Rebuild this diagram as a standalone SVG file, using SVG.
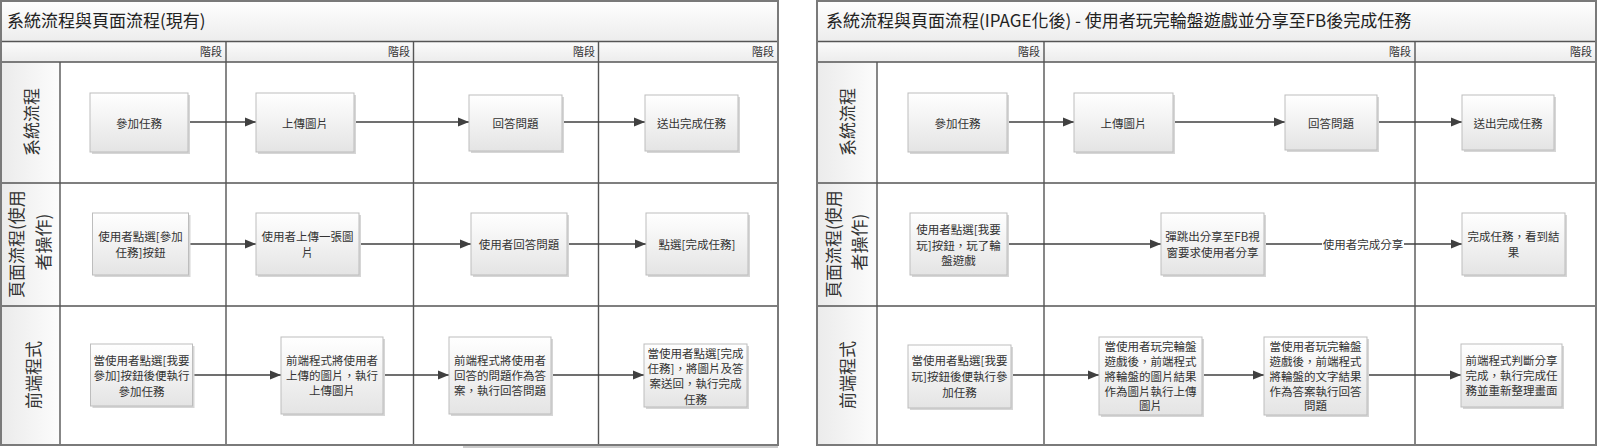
<svg xmlns="http://www.w3.org/2000/svg" width="1600" height="448" viewBox="0 0 1600 448" xml:lang="zh-TW" lang="zh-TW">
<defs>
<linearGradient id="gBox" x1="0" y1="0" x2="0" y2="1"><stop offset="0" stop-color="#ffffff"/><stop offset="1" stop-color="#e4e4e4"/></linearGradient>
<linearGradient id="gTitle" x1="0" y1="0" x2="0" y2="1"><stop offset="0" stop-color="#ffffff"/><stop offset="1" stop-color="#ececec"/></linearGradient>
<linearGradient id="gStage" x1="0" y1="0" x2="0" y2="1"><stop offset="0" stop-color="#fbfbfb"/><stop offset="1" stop-color="#ececec"/></linearGradient>
<linearGradient id="gLane" x1="0" y1="0" x2="1" y2="0"><stop offset="0" stop-color="#ebebeb"/><stop offset="1" stop-color="#fcfcfc"/></linearGradient>
<marker id="arr" markerWidth="12" markerHeight="10" refX="11" refY="5" orient="auto" markerUnits="userSpaceOnUse"><path d="M0,0.5 L11,5 L0,9.5 z" fill="#404040"/></marker>
</defs>
<style>
text{font-family:"Noto Sans CJK TC","Noto Sans CJK SC",sans-serif;fill:#333}
.title{font-size:17px;fill:#222}
.lane{font-size:17px;fill:#333}
.stage{font-size:11px;fill:#444}
.n text{font-size:11.5px;text-anchor:middle;dominant-baseline:central}
.n rect.b{fill:url(#gBox);stroke:#bdbdbd;stroke-width:1}
.n rect.s{fill:#d6d6d6}
.grid{stroke:#555;stroke-width:1.4;fill:none}
.outer{stroke:#7a7a7a;stroke-width:2;fill:none}
.c line{stroke:#404040;stroke-width:1.5;marker-end:url(#arr)}
</style>
<rect width="1600" height="448" fill="#ffffff"/>

<!-- LEFT PANEL FRAME -->
<g id="panel-left">
<rect x="1" y="1" width="777" height="40.5" fill="url(#gTitle)"/>
<rect x="1" y="41.5" width="777" height="20.5" fill="url(#gStage)"/>
<rect x="1" y="62" width="59" height="383" fill="url(#gLane)"/>
<text class="title" x="7" y="27">系統流程與頁面流程(現有)</text>
<g class="stage" text-anchor="end"><text x="222" y="56">階段</text><text x="410" y="56">階段</text><text x="595" y="56">階段</text><text x="774" y="56">階段</text></g>
<path class="grid" d="M1,41.5H778 M1,62H778 M1,183H778 M1,306H778 M60,62V445 M226,41.5V445 M413.5,41.5V445 M598.5,41.5V445"/>
<rect class="outer" x="1" y="1" width="777" height="444"/>
<line x1="463" y1="447" x2="778" y2="447" stroke="#999" stroke-width="1"/>
<text class="lane" text-anchor="middle" dominant-baseline="central" transform="translate(30,122) rotate(-90)">系統流程</text>
<text class="lane" text-anchor="middle" dominant-baseline="central" transform="translate(15,244) rotate(-90)">頁面流程(使用</text>
<text class="lane" text-anchor="middle" dominant-baseline="central" transform="translate(42,242) rotate(-90)">者操作)</text>
<text class="lane" text-anchor="middle" dominant-baseline="central" transform="translate(32,375) rotate(-90)">前端程式</text>
</g>

<!-- RIGHT PANEL FRAME -->
<g id="panel-right">
<rect x="817" y="1" width="779" height="40.5" fill="url(#gTitle)"/>
<rect x="817" y="41.5" width="779" height="20.5" fill="url(#gStage)"/>
<rect x="817" y="62" width="60" height="383" fill="url(#gLane)"/>
<text class="title" x="826" y="27">系統流程與頁面流程(IPAGE化後) - 使用者玩完輪盤遊戲並分享至FB後完成任務</text>
<g class="stage" text-anchor="end"><text x="1040" y="56">階段</text><text x="1411" y="56">階段</text><text x="1592" y="56">階段</text></g>
<path class="grid" d="M817,41.5H1596 M817,62H1596 M817,183H1596 M817,306H1596 M877,62V445 M1044,41.5V445 M1415,41.5V445"/>
<rect class="outer" x="817" y="1" width="779" height="444"/>
<text class="lane" text-anchor="middle" dominant-baseline="central" transform="translate(846,122) rotate(-90)">系統流程</text>
<text class="lane" text-anchor="middle" dominant-baseline="central" transform="translate(832,244) rotate(-90)">頁面流程(使用</text>
<text class="lane" text-anchor="middle" dominant-baseline="central" transform="translate(858,242) rotate(-90)">者操作)</text>
<text class="lane" text-anchor="middle" dominant-baseline="central" transform="translate(846,375) rotate(-90)">前端程式</text>
</g>

<!-- CONNECTORS -->
<g id="connectors" class="c">
<line x1="188" y1="122" x2="256" y2="122"/>
<line x1="354" y1="122" x2="469" y2="122"/>
<line x1="562" y1="122" x2="645" y2="122"/>
<line x1="188" y1="244" x2="256" y2="244"/>
<line x1="359" y1="244" x2="471" y2="244"/>
<line x1="567" y1="244" x2="646" y2="244"/>
<line x1="192" y1="375" x2="281" y2="375"/>
<line x1="383" y1="375" x2="449" y2="375"/>
<line x1="551" y1="375" x2="644" y2="375"/>
<line x1="1007" y1="122" x2="1074" y2="122"/>
<line x1="1173" y1="122" x2="1285" y2="122"/>
<line x1="1377" y1="122" x2="1462" y2="122"/>
<line x1="1007" y1="244" x2="1161" y2="244"/>
<line x1="1264" y1="244" x2="1462" y2="244"/>
<line x1="1011" y1="375" x2="1099" y2="375"/>
<line x1="1203" y1="375" x2="1264" y2="375"/>
<line x1="1367" y1="375" x2="1461" y2="375"/>
<rect x="1322" y="236" width="82" height="16" fill="#ffffff"/>
<text x="1363" y="244" font-size="11.5" text-anchor="middle" dominant-baseline="central">使用者完成分享</text>
</g>

<!-- LEFT NODES -->
<g id="L-sys-1" class="n"><rect class="s" x="92" y="95" width="98" height="59"/><rect class="b" x="90" y="93" width="98" height="59"/><text x="139" y="122.5">參加任務</text></g>
<g id="L-sys-2" class="n"><rect class="s" x="258" y="95" width="98" height="59"/><rect class="b" x="256" y="93" width="98" height="59"/><text x="305" y="122.5">上傳圖片</text></g>
<g id="L-sys-3" class="n"><rect class="s" x="471" y="97" width="93" height="56"/><rect class="b" x="469" y="95" width="93" height="56"/><text x="515.5" y="122.5">回答問題</text></g>
<g id="L-sys-4" class="n"><rect class="s" x="647" y="97" width="93" height="56"/><rect class="b" x="645" y="95" width="93" height="56"/><text x="691.5" y="122.5">送出完成任務</text></g>

<g id="L-page-1" class="n"><rect class="s" x="94.5" y="215" width="96" height="62"/><rect class="b" x="92.5" y="213" width="96" height="62"/><text x="140.5" y="236">使用者點選[參加</text><text x="140.5" y="252">任務]按鈕</text></g>
<g id="L-page-2" class="n"><rect class="s" x="258" y="215" width="103" height="62"/><rect class="b" x="256" y="213" width="103" height="62"/><text x="307.5" y="236">使用者上傳一張圖</text><text x="307.5" y="252">片</text></g>
<g id="L-page-3" class="n"><rect class="s" x="473" y="215" width="96" height="62"/><rect class="b" x="471" y="213" width="96" height="62"/><text x="519" y="244">使用者回答問題</text></g>
<g id="L-page-4" class="n"><rect class="s" x="648" y="215" width="102" height="62"/><rect class="b" x="646" y="213" width="102" height="62"/><text x="697" y="244">點選[完成任務]</text></g>

<g id="L-fe-1" class="n"><rect class="s" x="92.5" y="346" width="102" height="62"/><rect class="b" x="90.5" y="344" width="102" height="62"/><text x="141.5" y="359.5">當使用者點選[我要</text><text x="141.5" y="375">參加]按鈕後便執行</text><text x="141.5" y="390.5">參加任務</text></g>
<g id="L-fe-2" class="n"><rect class="s" x="283" y="339" width="102" height="77"/><rect class="b" x="281" y="337" width="102" height="77"/><text x="332" y="360">前端程式將使用者</text><text x="332" y="375">上傳的圖片，執行</text><text x="332" y="390">上傳圖片</text></g>
<g id="L-fe-3" class="n"><rect class="s" x="451" y="339" width="102" height="77"/><rect class="b" x="449" y="337" width="102" height="77"/><text x="500" y="359.5">前端程式將使用者</text><text x="500" y="374.5">回答的問題作為答</text><text x="500" y="389.5">案，執行回答問題</text></g>
<g id="L-fe-4" class="n"><rect class="s" x="646" y="346" width="103" height="63"/><rect class="b" x="644" y="344" width="103" height="63"/><text x="695.5" y="353">當使用者點選[完成</text><text x="695.5" y="368">任務]，將圖片及答</text><text x="695.5" y="383">案送回，執行完成</text><text x="695.5" y="398.5">任務</text></g>

<!-- RIGHT NODES -->
<g id="R-sys-1" class="n"><rect class="s" x="910" y="95" width="99" height="59"/><rect class="b" x="908" y="93" width="99" height="59"/><text x="957.5" y="122.5">參加任務</text></g>
<g id="R-sys-2" class="n"><rect class="s" x="1076" y="95" width="99" height="59"/><rect class="b" x="1074" y="93" width="99" height="59"/><text x="1123.5" y="122.5">上傳圖片</text></g>
<g id="R-sys-3" class="n"><rect class="s" x="1287" y="97" width="92" height="55"/><rect class="b" x="1285" y="95" width="92" height="55"/><text x="1331" y="122.5">回答問題</text></g>
<g id="R-sys-4" class="n"><rect class="s" x="1464" y="97" width="92" height="55"/><rect class="b" x="1462" y="95" width="92" height="55"/><text x="1508" y="122.5">送出完成任務</text></g>

<g id="R-page-1" class="n"><rect class="s" x="912" y="215" width="97" height="62"/><rect class="b" x="910" y="213" width="97" height="62"/><text x="958.5" y="229">使用者點選[我要</text><text x="958.5" y="244.5">玩]按鈕，玩了輪</text><text x="958.5" y="260">盤遊戲</text></g>
<g id="R-page-2" class="n"><rect class="s" x="1163" y="215" width="103" height="62"/><rect class="b" x="1161" y="213" width="103" height="62"/><text x="1212.5" y="236">彈跳出分享至FB視</text><text x="1212.5" y="252">窗要求使用者分享</text></g>
<g id="R-page-3" class="n"><rect class="s" x="1464" y="215" width="103" height="62"/><rect class="b" x="1462" y="213" width="103" height="62"/><text x="1513.5" y="236">完成任務，看到結</text><text x="1513.5" y="252">果</text></g>

<g id="R-fe-1" class="n"><rect class="s" x="910" y="347" width="103" height="63"/><rect class="b" x="908" y="345" width="103" height="63"/><text x="959.5" y="360">當使用者點選[我要</text><text x="959.5" y="376">玩]按鈕後便執行參</text><text x="959.5" y="391.5">加任務</text></g>
<g id="R-fe-2" class="n"><rect class="s" x="1101" y="339" width="103" height="78"/><rect class="b" x="1099" y="337" width="103" height="78"/><text x="1150.5" y="345.5">當使用者玩完輪盤</text><text x="1150.5" y="360.5">遊戲後，前端程式</text><text x="1150.5" y="375.5">將輪盤的圖片結果</text><text x="1150.5" y="390.5">作為圖片執行上傳</text><text x="1150.5" y="405">圖片</text></g>
<g id="R-fe-3" class="n"><rect class="s" x="1266" y="339" width="103" height="78"/><rect class="b" x="1264" y="337" width="103" height="78"/><text x="1315.5" y="345.5">當使用者玩完輪盤</text><text x="1315.5" y="360.5">遊戲後，前端程式</text><text x="1315.5" y="375.5">將輪盤的文字結果</text><text x="1315.5" y="390.5">作為答案執行回答</text><text x="1315.5" y="405">問題</text></g>
<g id="R-fe-4" class="n"><rect class="s" x="1463" y="346" width="101" height="63"/><rect class="b" x="1461" y="344" width="101" height="63"/><text x="1511.5" y="360">前端程式判斷分享</text><text x="1511.5" y="375">完成，執行完成任</text><text x="1511.5" y="390">務並重新整理畫面</text></g>
</svg>
